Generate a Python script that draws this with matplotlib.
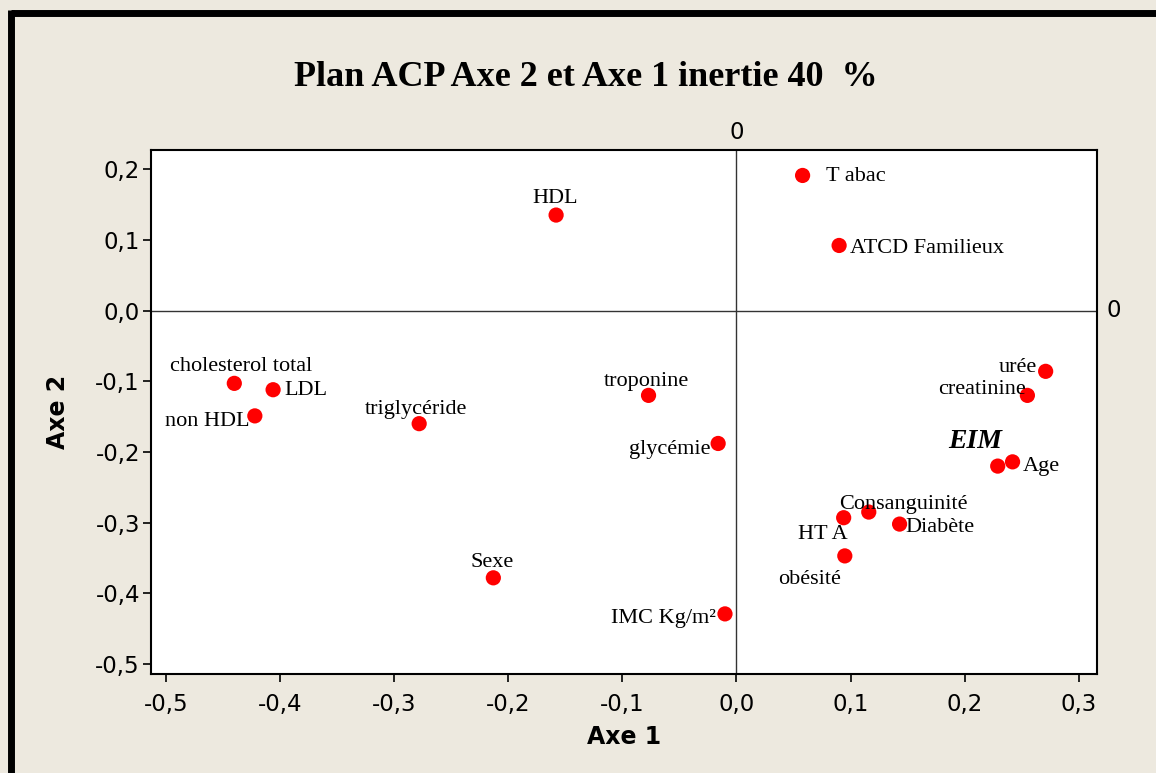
import matplotlib
matplotlib.use("Agg")
import matplotlib.pyplot as plt
from matplotlib.lines import Line2D

# Variable coordinates on the first two principal axes
variables = ["Tabac", "ATCD Familieux", "HDL", "cholesterol total", "LDL",
             "non HDL", "triglycéride", "troponine", "glycémie", "Sexe",
             "IMC Kg/m²", "urée", "creatinine", "EIM", "Age",
             "Consanguinité", "HTA", "Diabète", "obésité"]
axe1 = [0.058, 0.090, -0.158, -0.440, -0.406,
        -0.422, -0.278, -0.077, -0.016, -0.213,
        -0.010, 0.271, 0.255, 0.229, 0.242,
        0.116, 0.094, 0.143, 0.095]
axe2 = [0.191, 0.092, 0.135, -0.103, -0.112,
        -0.149, -0.160, -0.120, -0.188, -0.378,
        -0.429, -0.086, -0.120, -0.220, -0.214,
        -0.285, -0.293, -0.302, -0.347]
point_labels = ["T abac", "ATCD Familieux", "HDL", "cholesterol total", "LDL",
                "non HDL", "triglycéride", "troponine", "glycémie", "Sexe",
                "IMC Kg/m²", "urée", "creatinine", "EIM", "Age",
                "Consanguinité", "HT A", "Diabète", "obésité"]

x_ticks = [-0.5, -0.4, -0.3, -0.2, -0.1, 0.0, 0.1, 0.2, 0.3]
y_ticks = [0.2, 0.1, 0.0, -0.1, -0.2, -0.3, -0.4, -0.5]

title = "Plan ACP Axe 2 et Axe 1 inertie 40  %"

# label placement: (dx px, dy px, ha, va)
placement = {
    "Tabac": (23, -1, "left", "center"),
    "ATCD Familieux": (11, -3, "left", "center"),
    "HDL": (-1, 17, "center", "center"),
    "cholesterol total": (7, 17, "center", "center"),
    "LDL": (11, -1, "left", "center"),
    "non HDL": (-5, -6, "right", "center"),
    "triglycéride": (-3, 14, "center", "center"),
    "troponine": (-2, 14, "center", "center"),
    "glycémie": (-8, -6, "right", "center"),
    "Sexe": (-1, 15, "center", "center"),
    "IMC Kg/m²": (-9, -5, "right", "center"),
    "urée": (-9, 4, "right", "center"),
    "creatinine": (-2, 6, "right", "center"),
    "EIM": (-23, 25, "center", "center"),
    "Age": (10, -5, "left", "center"),
    "Consanguinité": (35, 8, "center", "center"),
    "HTA": (-21, -17, "center", "center"),
    "Diabète": (6, -3, "left", "center"),
    "obésité": (-35, -24, "center", "center"),
}

W, H = 1156, 773
bg = "#EDE9DF"
fig = plt.figure(figsize=(W / 100, H / 100), dpi=100, facecolor=bg)

# frame lines along the top and left edges
fig.add_artist(Line2D([11 / W, 1], [1 - 13 / H, 1 - 13 / H], color="black",
                      lw=5, transform=fig.transFigure, solid_capstyle="butt"))
fig.add_artist(Line2D([11 / W, 11 / W], [0, 1 - 10 / H], color="black",
                      lw=5, transform=fig.transFigure, solid_capstyle="butt"))

left, right, top, bottom = 151, 1097, 150, 674
ax = fig.add_axes([left / W, 1 - bottom / H, (right - left) / W, (bottom - top) / H])
ax.set_facecolor("white")
ax.set_xlim(-0.513, 0.316)
ax.set_ylim(-0.514, 0.227)

ax.axhline(0, color="#333333", lw=1.0, zorder=1)
ax.axvline(0, color="#333333", lw=1.0, zorder=1)

ax.scatter(axe1, axe2, s=120, color="#FF0000", edgecolors="none", zorder=3)

for name, lab, x, y in zip(variables, point_labels, axe1, axe2):
    dx, dy, ha, va = placement[name]
    if name == "EIM":
        ax.annotate(lab, (x, y), xytext=(dx * 0.72, dy * 0.72),
                    textcoords="offset points", ha=ha, va=va,
                    fontsize=20, fontweight="bold", fontstyle="italic",
                    family="Liberation Serif")
    else:
        ax.annotate(lab, (x, y), xytext=(dx * 0.72, dy * 0.72),
                    textcoords="offset points", ha=ha, va=va,
                    fontsize=16, family="Liberation Serif")

ax.set_xticks(x_ticks)
ax.set_yticks(y_ticks)
ax.set_xticklabels([f"{v:.1f}".replace(".", ",") for v in x_ticks])
ax.set_yticklabels([f"{v:.1f}".replace(".", ",") for v in y_ticks])
ax.tick_params(direction="out", length=6, width=1.2, labelsize=16.5,
               colors="black")
ax.tick_params(axis="y", pad=2)
ax.tick_params(axis="x", pad=8)
for sp in ax.spines.values():
    sp.set_linewidth(1.5)
    sp.set_color("black")

ax.set_xlabel("Axe 1", fontsize=17, fontweight="bold", labelpad=6)
ax.set_ylabel("Axe 2", fontsize=17, fontweight="bold", labelpad=18)

# zero markers for the reference lines
ax.annotate("0", (0, 1.0), xycoords=ax.get_xaxis_transform(),
            xytext=(0, 4), textcoords="offset points",
            ha="center", va="bottom", fontsize=16.5)
ax.annotate("0", (1.0, 0), xycoords=ax.get_yaxis_transform(),
            xytext=(6.5, 0), textcoords="offset points",
            ha="left", va="center", fontsize=16.5)

fig.text(586 / W, 1 - 77 / H, title, ha="center", va="center",
         fontsize=26, fontweight="bold", family="Liberation Serif")

fig.savefig("out.png", dpi=100, facecolor=bg)
